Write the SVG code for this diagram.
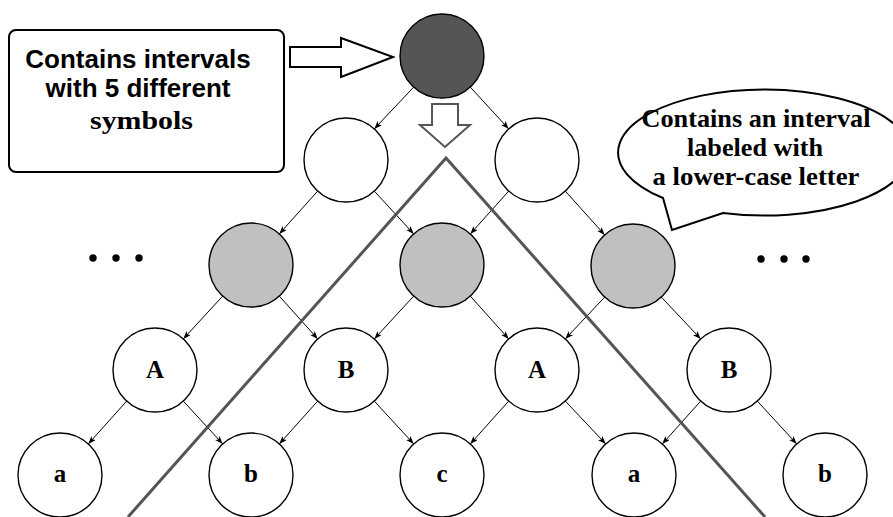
<svg xmlns="http://www.w3.org/2000/svg" width="893" height="517" viewBox="0 0 893 517">
<style>
.n{stroke:#000;stroke-width:1.4;fill:#fff}
.g{fill:#c0c0c0}
.d{fill:#555}
.e{stroke:#000;stroke-width:1;fill:none;marker-end:url(#ah)}
.lbl{font-family:"Liberation Serif","Times New Roman",serif;font-weight:bold;font-size:25px;text-anchor:middle}
.sans{font-family:"Liberation Sans",Arial,sans-serif;font-weight:bold;font-size:26px;text-anchor:middle}
.serif{font-family:"Liberation Serif","Times New Roman",serif;font-weight:bold;font-size:25px;text-anchor:middle}
.diag{stroke:#555;stroke-width:3;fill:none}
.dot{fill:#000}
</style>
<defs>
<marker id="ah" markerWidth="9" markerHeight="8" refX="8" refY="3" orient="auto" markerUnits="userSpaceOnUse">
<path d="M0,0 L8,3 L0,6 L2,3 Z" fill="#000"/>
</marker>
</defs>
<g id="connectors">
<line class="e" x1="413.7" y1="87.1" x2="374.3" y2="128.9"/>
<line class="e" x1="470.3" y1="87.1" x2="508.7" y2="128.9"/>
<line class="e" x1="317.7" y1="191.1" x2="279.3" y2="233.9"/>
<line class="e" x1="374.3" y1="191.1" x2="413.7" y2="233.9"/>
<line class="e" x1="508.7" y1="191.1" x2="470.3" y2="233.9"/>
<line class="e" x1="565.3" y1="191.1" x2="604.7" y2="234.9"/>
<line class="e" x1="222.7" y1="296.1" x2="183.3" y2="338.9"/>
<line class="e" x1="279.3" y1="296.1" x2="317.7" y2="338.9"/>
<line class="e" x1="413.7" y1="296.1" x2="374.3" y2="338.9"/>
<line class="e" x1="470.3" y1="296.1" x2="508.7" y2="338.9"/>
<line class="e" x1="604.7" y1="297.1" x2="565.3" y2="338.9"/>
<line class="e" x1="661.3" y1="297.1" x2="700.7" y2="338.9"/>
<line class="e" x1="126.7" y1="401.1" x2="88.3" y2="443.9"/>
<line class="e" x1="183.3" y1="401.1" x2="222.7" y2="443.9"/>
<line class="e" x1="317.7" y1="401.1" x2="279.3" y2="443.9"/>
<line class="e" x1="374.3" y1="401.1" x2="413.7" y2="443.9"/>
<line class="e" x1="508.7" y1="401.1" x2="470.3" y2="443.9"/>
<line class="e" x1="565.3" y1="401.1" x2="605.7" y2="443.9"/>
<line class="e" x1="700.7" y1="401.1" x2="662.3" y2="443.9"/>
<line class="e" x1="757.3" y1="401.1" x2="796.7" y2="443.9"/>
</g>
<g id="diagonals">
<polyline class="diag" points="128,517 446,158 765,517"/>
</g>
<g id="root"><circle class="n d" cx="442" cy="56" r="42"/></g>
<g id="p1"><circle class="n" cx="346" cy="160" r="42"/></g>
<g id="p2"><circle class="n" cx="537" cy="160" r="42"/></g>
<g id="g1"><circle class="n g" cx="251" cy="265" r="42"/></g>
<g id="g2"><circle class="n g" cx="442" cy="265" r="42"/></g>
<g id="g3"><circle class="n g" cx="633" cy="266" r="42"/></g>
<g id="A1"><circle class="n" cx="155" cy="370" r="42"/><text class="lbl" x="155" y="378">A</text></g>
<g id="B1"><circle class="n" cx="346" cy="370" r="42"/><text class="lbl" x="346" y="378">B</text></g>
<g id="A2"><circle class="n" cx="537" cy="370" r="42"/><text class="lbl" x="537" y="378">A</text></g>
<g id="B2"><circle class="n" cx="729" cy="370" r="42"/><text class="lbl" x="729" y="378">B</text></g>
<g id="a1"><circle class="n" cx="60" cy="475" r="42"/><text class="lbl" x="60" y="482">a</text></g>
<g id="b1"><circle class="n" cx="251" cy="475" r="42"/><text class="lbl" x="251" y="482">b</text></g>
<g id="c"><circle class="n" cx="442" cy="475" r="42"/><text class="lbl" x="442" y="482">c</text></g>
<g id="a2"><circle class="n" cx="634" cy="475" r="42"/><text class="lbl" x="634" y="482">a</text></g>
<g id="b2"><circle class="n" cx="825" cy="475" r="42"/><text class="lbl" x="825" y="482">b</text></g>
<g id="dots-left"><circle class="dot" cx="93" cy="258" r="3.7"/><circle class="dot" cx="116" cy="258" r="3.7"/><circle class="dot" cx="139" cy="258" r="3.7"/></g>
<g id="dots-right"><circle class="dot" cx="761" cy="259" r="3.7"/><circle class="dot" cx="784" cy="259" r="3.7"/><circle class="dot" cx="806" cy="259" r="3.7"/></g>
<g id="callout-box">
<rect x="9" y="30" width="275" height="142" rx="7" fill="#fff" stroke="#000" stroke-width="2"/>
<text class="sans" x="138" y="68">Contains intervals</text>
<text class="sans" x="138" y="97">with 5 different</text>
<text class="serif" x="141.5" y="129" textLength="103" lengthAdjust="spacingAndGlyphs">symbols</text>
</g>
<g id="right-arrow">
<path d="M290,47 L341,47 L341,38 L393,57 L341,77 L341,67 L290,67 Z" fill="#fff" stroke="#000" stroke-width="2"/>
</g>
<g id="down-arrow">
<path d="M432,104 L458,104 L458,125 L470,125 L445,147 L420,125 L432,125 Z" fill="#fff" stroke="#555" stroke-width="2"/>
</g>
<g id="speech-bubble">
<path d="M663,198 A146,63 0 1 1 723,213 L672,230 Z" fill="#fff" stroke="#000" stroke-width="2" stroke-linejoin="miter"/>
<text class="serif" x="756" y="127" textLength="229" lengthAdjust="spacingAndGlyphs">Contains an interval</text>
<text class="serif" x="755" y="156" textLength="136" lengthAdjust="spacingAndGlyphs">labeled with</text>
<text class="serif" x="756" y="185" textLength="207" lengthAdjust="spacingAndGlyphs">a lower-case letter</text>
</g>
</svg>
